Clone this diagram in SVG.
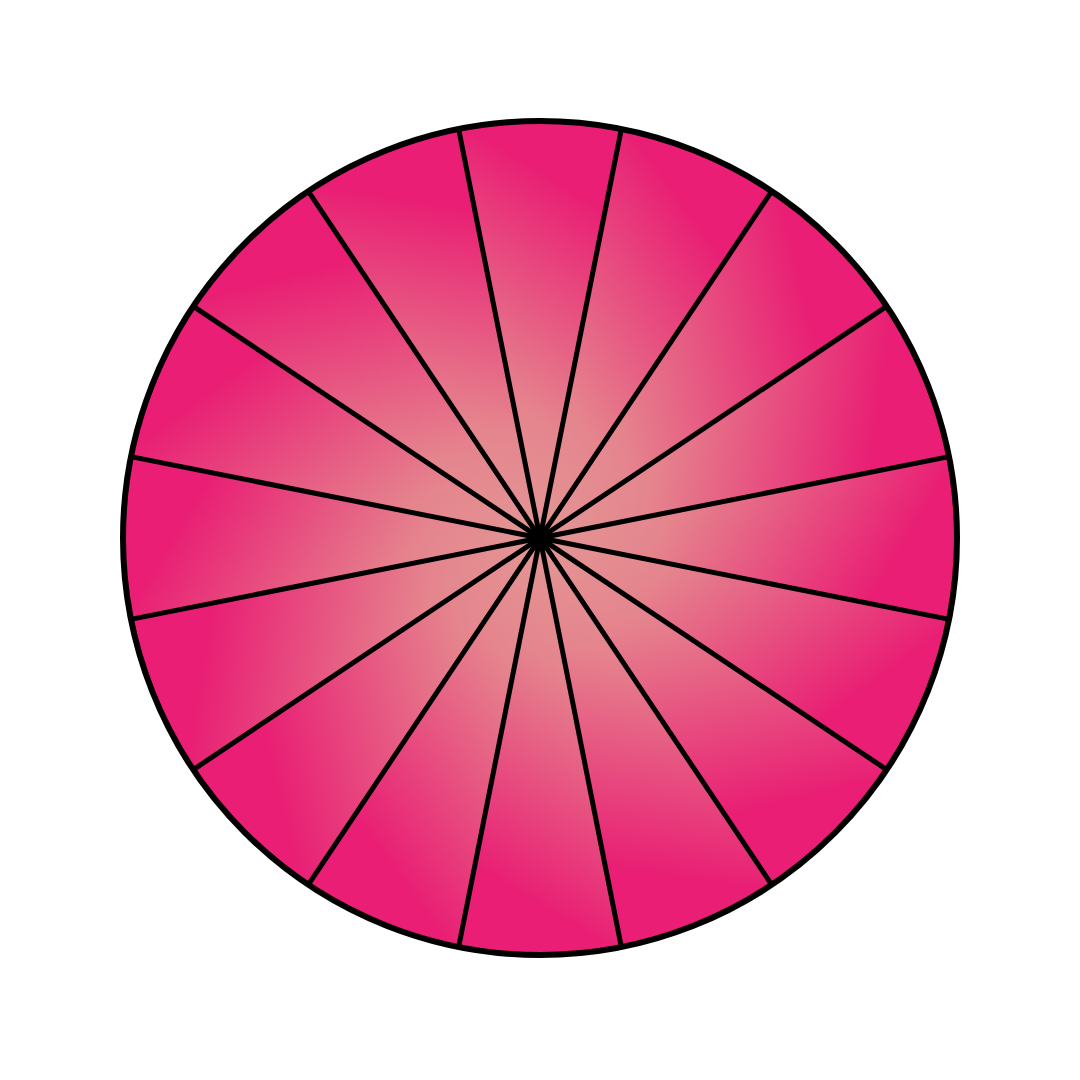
<svg xmlns="http://www.w3.org/2000/svg" xmlns:xlink="http://www.w3.org/1999/xlink" width="1080" height="1080" viewBox="0 0 1080 1080">
<defs>
<linearGradient id="wg" gradientUnits="userSpaceOnUse" x1="-90" y1="-60" x2="80" y2="-340">
<stop offset="0" stop-color="#E39695"/>
<stop offset="0.3" stop-color="#E5848D"/>
<stop offset="0.95" stop-color="#E91E74"/>
</linearGradient>
<path id="w" d="M0,0 L-81.16,-408 A416,416 0 0 1 81.16,-408 Z" fill="url(#wg)"/>
<style>
.sp{stroke:#000;stroke-width:5;stroke-linecap:round}
.rim{fill:none;stroke:#000;stroke-width:6}
</style>
</defs>
<rect width="1080" height="1080" fill="#fff"/>
<g id="wheel" transform="translate(540,538)">
<g id="sectors">
<use href="#w" transform="rotate(0)"/>
<use href="#w" transform="rotate(22.5)"/>
<use href="#w" transform="rotate(45)"/>
<use href="#w" transform="rotate(67.5)"/>
<use href="#w" transform="rotate(90)"/>
<use href="#w" transform="rotate(112.5)"/>
<use href="#w" transform="rotate(135)"/>
<use href="#w" transform="rotate(157.5)"/>
<use href="#w" transform="rotate(180)"/>
<use href="#w" transform="rotate(202.5)"/>
<use href="#w" transform="rotate(225)"/>
<use href="#w" transform="rotate(247.5)"/>
<use href="#w" transform="rotate(270)"/>
<use href="#w" transform="rotate(292.5)"/>
<use href="#w" transform="rotate(315)"/>
<use href="#w" transform="rotate(337.5)"/>
</g>
<g id="spokes">
<line class="sp" x1="0" y1="-416" x2="0" y2="416" transform="rotate(11.25)"/>
<line class="sp" x1="0" y1="-416" x2="0" y2="416" transform="rotate(33.75)"/>
<line class="sp" x1="0" y1="-416" x2="0" y2="416" transform="rotate(56.25)"/>
<line class="sp" x1="0" y1="-416" x2="0" y2="416" transform="rotate(78.75)"/>
<line class="sp" x1="0" y1="-416" x2="0" y2="416" transform="rotate(101.25)"/>
<line class="sp" x1="0" y1="-416" x2="0" y2="416" transform="rotate(123.75)"/>
<line class="sp" x1="0" y1="-416" x2="0" y2="416" transform="rotate(146.25)"/>
<line class="sp" x1="0" y1="-416" x2="0" y2="416" transform="rotate(168.75)"/>
</g>
<circle class="rim" cx="0" cy="0" r="417"/>
</g>
</svg>
